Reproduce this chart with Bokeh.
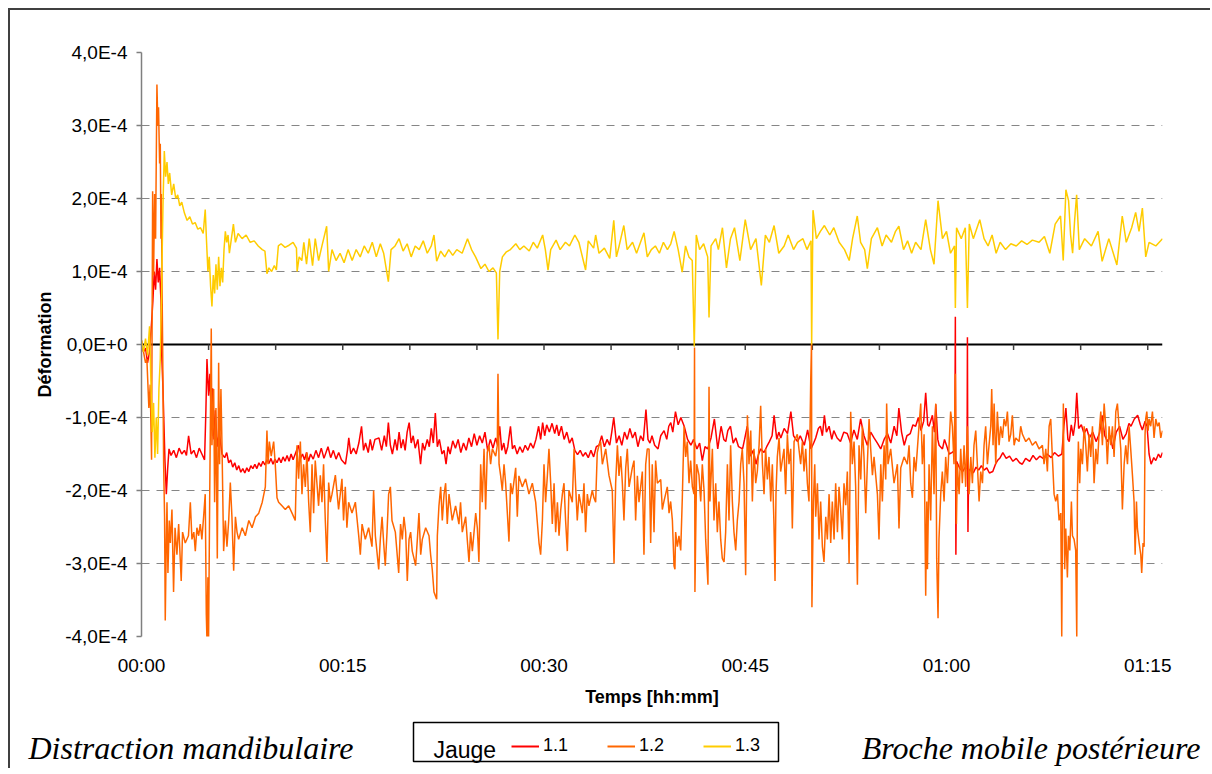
from bokeh.plotting import figure
from bokeh.models import Range1d, FixedTicker, Span, Legend, LegendItem, Label, BoxAnnotation
from bokeh.embed import file_html
from bokeh.resources import INLINE

# ---------------- data (time in minutes, deformation in units of 1E-4) ----------------
y_ticks = [-4, -3, -2, -1, 0, 1, 2, 3, 4]
y_labels = ["-4,0E-4", "-3,0E-4", "-2,0E-4", "-1,0E-4", "0,0E+0",
            "1,0E-4", "2,0E-4", "3,0E-4", "4,0E-4"]
grid_ticks = [-4, -3, -2, -1, 1, 2, 3, 4]
x_ticks = [0, 15, 30, 45, 60, 75]
x_labels = ["00:00", "00:15", "00:30", "00:45", "01:00", "01:15"]
minor_x_ticks = [5, 10, 15, 20, 25, 30, 35, 40, 45, 50, 55, 60, 65, 70, 75]

jauge_1_1 = [
    (0.0, 0.0), (0.15, -0.1), (0.3, -0.05), (0.45, -0.25), (0.6, -0.1), (0.75, 0.3),
    (0.85, 0.6), (0.95, 1.0), (1.05, 0.75), (1.15, 1.17), (1.25, 0.85), (1.35, 1.05),
    (1.45, 0.6), (1.5, -0.1), (1.6, -0.6), (1.75, -1.6), (1.85, -2.05), (1.95, -1.7),
    (2.05, -1.43), (2.2, -1.52), (2.4, -1.45), (2.6, -1.55), (2.8, -1.42), (3.0, -1.5),
    (3.2, -1.45), (3.35, -1.52), (3.51, -1.25), (3.7, -1.5), (3.9, -1.45), (4.1, -1.55),
    (4.3, -1.42), (4.5, -1.5), (4.7, -1.58), (4.8, -0.9), (4.88, -0.2), (5.0, -0.7),
    (5.1, -0.4), (5.2, -1.0), (5.3, -0.6), (5.4, -1.3), (5.5, -0.9), (5.65, -1.4),
    (5.8, -1.2), (6.0, -1.5), (6.2, -1.55), (6.35, -1.48), (6.5, -1.62), (6.65, -1.58),
    (6.8, -1.68), (6.95, -1.62), (7.1, -1.72), (7.25, -1.66), (7.4, -1.75), (7.55, -1.7),
    (7.7, -1.76), (7.85, -1.69), (8.0, -1.74), (8.15, -1.66), (8.3, -1.7), (8.45, -1.64),
    (8.6, -1.7), (8.75, -1.62), (8.9, -1.67), (9.05, -1.6), (9.2, -1.65), (9.35, -1.58),
    (9.5, -1.63), (9.65, -1.56), (9.8, -1.64), (9.95, -1.57), (10.1, -1.62), (10.25, -1.55),
    (10.4, -1.62), (10.55, -1.54), (10.7, -1.6), (10.85, -1.52), (11.0, -1.6), (11.15, -1.5),
    (11.3, -1.58), (11.5, -1.48), (11.7, -1.38), (11.85, -1.56), (12.0, -1.5), (12.15, -1.58),
    (12.3, -1.48), (12.45, -1.6), (12.6, -1.5), (12.8, -1.57), (13.0, -1.45), (13.2, -1.55),
    (13.4, -1.42), (13.6, -1.56), (13.9, -1.4), (14.1, -1.55), (14.3, -1.45), (14.5, -1.57),
    (14.7, -1.48), (14.9, -1.58), (15.2, -1.64), (15.35, -1.45), (15.45, -1.28), (15.6, -1.5),
    (15.8, -1.42), (16.0, -1.5), (16.2, -1.35), (16.4, -1.12), (16.55, -1.45), (16.7, -1.35),
    (16.9, -1.48), (17.05, -1.3), (17.2, -1.45), (17.4, -1.3), (17.7, -1.28), (17.9, -1.45),
    (18.1, -1.25), (18.25, -1.4), (18.4, -1.07), (18.55, -1.38), (18.7, -1.5), (18.9, -1.3),
    (19.05, -1.45), (19.2, -1.2), (19.35, -1.42), (19.5, -1.3), (19.65, -1.45), (19.8, -1.2),
    (19.95, -1.07), (20.1, -1.35), (20.25, -1.25), (20.4, -1.42), (20.6, -1.3), (20.8, -1.64),
    (20.95, -1.35), (21.1, -1.45), (21.3, -1.3), (21.45, -1.4), (21.6, -1.15), (21.75, -1.35),
    (21.9, -0.94), (22.05, -1.4), (22.2, -1.3), (22.4, -1.5), (22.55, -1.45), (22.7, -1.64),
    (22.85, -1.4), (23.0, -1.5), (23.2, -1.32), (23.4, -1.42), (23.6, -1.3), (23.8, -1.48),
    (24.0, -1.35), (24.2, -1.45), (24.4, -1.28), (24.6, -1.4), (24.8, -1.22), (25.0, -1.38),
    (25.2, -1.25), (25.4, -1.35), (25.6, -1.2), (25.8, -1.45), (26.0, -1.3), (26.2, -1.42),
    (26.4, -1.28), (26.55, -1.38), (26.7, -1.12), (26.85, -1.45), (27.0, -1.35), (27.15, -1.5),
    (27.3, -1.4), (27.5, -1.12), (27.65, -1.43), (27.8, -1.38), (28.0, -1.5), (28.2, -1.4),
    (28.4, -1.48), (28.6, -1.38), (28.8, -1.45), (29.0, -1.35), (29.2, -1.42), (29.4, -1.3),
    (29.6, -1.12), (29.75, -1.3), (29.9, -1.07), (30.05, -1.25), (30.2, -1.1), (30.4, -1.2),
    (30.6, -1.08), (30.8, -1.22), (30.95, -1.1), (31.1, -1.25), (31.3, -1.12), (31.5, -1.3),
    (31.7, -1.2), (31.9, -1.35), (32.1, -1.28), (32.3, -1.45), (32.5, -1.51), (32.7, -1.45),
    (32.9, -1.53), (33.1, -1.48), (33.3, -1.55), (33.5, -1.45), (33.7, -1.54), (33.9, -1.4),
    (34.1, -1.38), (34.3, -1.25), (34.5, -1.4), (34.7, -1.3), (34.9, -1.38), (35.05, -1.2),
    (35.2, -1.0), (35.4, -1.35), (35.6, -1.25), (35.8, -1.38), (36.0, -1.2), (36.2, -1.3),
    (36.4, -1.15), (36.6, -1.28), (36.8, -1.2), (37.0, -1.4), (37.2, -1.25), (37.4, -1.32),
    (37.6, -0.89), (37.75, -1.3), (37.9, -1.35), (38.05, -1.25), (38.25, -1.38), (38.5, -1.43),
    (38.7, -1.25), (38.95, -1.18), (39.15, -1.3), (39.3, -1.12), (39.45, -1.07), (39.6, -1.2),
    (39.8, -0.92), (40.0, -1.1), (40.2, -1.0), (40.45, -1.12), (40.7, -1.3), (40.95, -1.38),
    (41.15, -1.3), (41.4, -1.43), (41.6, -1.35), (41.8, -1.59), (42.0, -1.4), (42.2, -1.43),
    (42.45, -1.28), (42.7, -1.02), (42.95, -1.43), (43.2, -1.12), (43.4, -1.3), (43.55, -1.33),
    (43.7, -1.18), (43.9, -1.12), (44.1, -1.35), (44.3, -1.28), (44.5, -1.4), (44.8, -1.43),
    (44.95, -1.3), (45.15, -1.12), (45.4, -1.53), (45.6, -1.45), (45.8, -1.64), (46.0, -1.5),
    (46.15, -1.43), (46.4, -1.48), (46.6, -1.4), (46.8, -1.33), (47.0, -1.25), (47.15, -0.97),
    (47.35, -1.3), (47.5, -1.2), (47.65, -1.28), (47.9, -1.15), (48.15, -1.22), (48.4, -0.92),
    (48.6, -1.25), (48.9, -1.33), (49.1, -1.25), (49.4, -1.38), (49.65, -1.17), (49.9, -1.43),
    (50.1, -1.35), (50.25, -1.28), (50.45, -1.15), (50.6, -1.12), (50.75, -1.25), (50.9, -0.97),
    (51.05, -1.2), (51.25, -1.12), (51.45, -1.3), (51.6, -1.18), (51.85, -1.28), (52.1, -1.33),
    (52.35, -1.2), (52.6, -1.22), (52.85, -1.35), (53.1, -1.17), (53.35, -1.3), (53.6, -1.02),
    (53.85, -1.25), (54.1, -1.38), (54.35, -1.2), (54.6, -1.28), (54.85, -1.35), (55.1, -1.43),
    (55.35, -1.3), (55.6, -1.22), (55.85, -1.35), (56.1, -1.12), (56.3, -1.25), (56.45, -0.87),
    (56.65, -1.2), (56.85, -1.38), (57.05, -1.25), (57.3, -1.22), (57.5, -1.1), (57.7, -1.12),
    (57.9, -1.0), (58.1, -1.18), (58.3, -1.05), (58.45, -0.66), (58.6, -1.1), (58.7, -1.12),
    (58.95, -0.97), (59.1, -1.2), (59.2, -0.82), (59.35, -1.3), (59.45, -1.38), (59.7, -1.43),
    (59.85, -1.3), (60.0, -1.38), (60.2, -1.5), (60.4, -1.48), (60.62, -1.45), (60.66, 0.38),
    (60.7, -2.88), (60.75, -1.6), (60.85, -1.64), (61.0, -1.7), (61.2, -1.74), (61.4, -1.68),
    (61.53, -1.7), (61.56, 0.1), (61.6, -2.57), (61.65, -1.74), (61.8, -1.7), (62.0, -1.76),
    (62.2, -1.68), (62.4, -1.72), (62.6, -1.66), (62.8, -1.72), (63.0, -1.69), (63.2, -1.76),
    (63.45, -1.74), (63.65, -1.64), (63.8, -1.59), (64.0, -1.55), (64.2, -1.48), (64.45, -1.56),
    (64.7, -1.53), (64.95, -1.6), (65.2, -1.56), (65.45, -1.62), (65.65, -1.64), (65.9, -1.56),
    (66.2, -1.6), (66.45, -1.52), (66.7, -1.58), (66.95, -1.53), (67.2, -1.56), (67.5, -1.5),
    (67.8, -1.55), (68.05, -1.48), (68.35, -1.53), (68.6, -1.5), (68.75, -1.12), (68.9, -0.87),
    (69.05, -1.3), (69.15, -1.33), (69.3, -1.1), (69.45, -1.25), (69.6, -1.05), (69.71, -0.66),
    (69.85, -1.15), (70.05, -1.1), (70.25, -1.22), (70.45, -1.15), (70.65, -1.28), (70.9, -1.2),
    (71.15, -1.33), (71.4, -1.22), (71.6, -0.97), (71.8, -1.25), (72.0, -1.33), (72.2, -1.25),
    (72.4, -1.43), (72.65, -1.2), (72.9, -1.12), (73.15, -1.3), (73.4, -1.22), (73.6, -1.08),
    (73.75, -1.12), (74.0, -1.02), (74.25, -0.97), (74.45, -1.1), (74.6, -1.17), (74.8, -1.05),
    (74.95, -1.12), (75.1, -1.5), (75.25, -1.64), (75.45, -1.55), (75.6, -1.59), (75.8, -1.5),
    (75.95, -1.55), (76.1, -1.48),
]

jauge_1_2 = [
    (0.0, 0.06), (0.15, -0.1), (0.3, -0.25), (0.4, -0.2), (0.55, -0.87), (0.65, -0.55),
    (0.75, -1.58), (0.83, 2.1), (0.9, 0.95), (0.98, 2.06), (1.05, 1.45), (1.15, 3.56),
    (1.22, 3.0), (1.27, 3.25), (1.35, 2.48), (1.4, 2.75), (1.45, 1.45), (1.48, 2.06),
    (1.53, 0.83), (1.58, -0.1), (1.65, -1.64), (1.72, -2.36), (1.77, -3.78), (1.85, -2.67),
    (1.9, -2.16), (1.97, -3.13), (2.07, -2.41), (2.15, -2.72), (2.27, -2.26), (2.39, -3.39),
    (2.5, -2.51), (2.64, -2.88), (2.77, -2.46), (2.96, -3.24), (3.06, -2.57), (3.26, -2.72),
    (3.5, -2.62), (3.64, -2.16), (3.76, -2.67), (3.9, -2.57), (4.01, -2.83), (4.13, -2.51),
    (4.26, -2.62), (4.38, -2.46), (4.5, -2.67), (4.63, -2.36), (4.75, -2.05), (4.83, -3.7),
    (4.88, -4.05), (4.95, -3.19), (5.0, -4.05), (5.08, -2.16), (5.2, 0.22), (5.25, -1.38),
    (5.38, -0.61), (5.45, -2.16), (5.55, -0.87), (5.65, -2.93), (5.75, -0.25), (5.82, -1.64),
    (5.92, -0.61), (6.0, -1.38), (6.12, -2.83), (6.25, -2.41), (6.37, -2.77), (6.5, -2.41),
    (6.62, -1.89), (6.74, -2.36), (6.87, -3.1), (7.0, -2.36), (7.12, -2.57), (7.24, -2.67),
    (7.5, -2.51), (7.74, -2.62), (8.0, -2.41), (8.24, -2.51), (8.5, -2.36), (8.74, -2.31),
    (9.0, -2.16), (9.23, -1.95), (9.35, -1.18), (9.43, -1.64), (9.53, -1.33), (9.67, -1.53),
    (9.85, -1.33), (9.97, -1.64), (10.1, -2.1), (10.22, -2.16), (10.47, -2.21), (10.72, -2.26),
    (10.97, -2.21), (11.22, -2.31), (11.46, -2.41), (11.59, -1.38), (11.71, -1.84), (11.84, -1.33),
    (11.96, -2.05), (12.08, -1.64), (12.21, -1.95), (12.33, -1.48), (12.46, -2.16), (12.58, -2.57),
    (12.71, -1.64), (12.83, -2.31), (12.95, -1.59), (13.2, -2.21), (13.33, -1.79), (13.45, -2.16),
    (13.57, -1.64), (13.7, -2.41), (13.82, -2.98), (13.95, -1.89), (14.07, -2.16), (14.2, -2.05),
    (14.45, -1.79), (14.69, -2.26), (14.94, -1.84), (15.06, -2.41), (15.19, -1.95), (15.31, -2.51),
    (15.44, -2.16), (15.69, -2.31), (15.94, -2.16), (16.19, -2.62), (16.31, -2.88), (16.44, -2.46),
    (16.68, -2.67), (16.93, -2.51), (17.18, -2.77), (17.3, -2.0), (17.43, -2.62), (17.68, -3.08),
    (17.8, -2.67), (17.93, -2.36), (18.05, -2.72), (18.17, -3.03), (18.3, -2.57), (18.42, -2.05),
    (18.55, -1.95), (18.67, -2.41), (18.92, -2.57), (19.17, -3.13), (19.31, -2.46), (19.44, -2.67),
    (19.56, -2.36), (19.69, -2.57), (19.81, -3.24), (19.94, -2.67), (20.06, -2.57), (20.18, -2.83),
    (20.31, -2.93), (20.43, -3.03), (20.56, -2.67), (20.68, -2.31), (20.81, -2.88), (20.93, -2.67),
    (21.18, -2.51), (21.43, -2.62), (21.55, -2.88), (21.67, -3.08), (21.8, -3.39), (21.9, -3.44),
    (22.0, -3.49), (22.05, -2.62), (22.17, -2.21), (22.3, -1.95), (22.42, -2.41), (22.55, -2.05),
    (22.67, -1.9), (22.79, -2.46), (22.92, -2.05), (23.16, -2.41), (23.41, -2.21), (23.66, -2.46),
    (23.78, -2.16), (23.91, -2.57), (24.16, -2.36), (24.28, -2.67), (24.41, -2.98), (24.53, -2.57),
    (24.66, -2.83), (24.91, -2.31), (25.03, -2.51), (25.15, -2.98), (25.28, -1.64), (25.4, -2.16),
    (25.53, -1.43), (25.65, -2.26), (25.77, -1.48), (25.9, -1.38), (26.02, -1.64), (26.15, -1.43),
    (26.4, -1.53), (26.52, -1.38), (26.57, -0.4), (26.65, -1.64), (26.77, -1.8), (26.89, -2.0),
    (27.02, -1.64), (27.14, -1.9), (27.39, -2.7), (27.51, -1.9), (27.64, -2.05), (27.89, -1.69),
    (28.01, -2.36), (28.13, -1.8), (28.38, -1.95), (28.63, -1.84), (28.88, -2.05), (29.13, -1.9),
    (29.38, -2.16), (29.63, -2.72), (29.75, -2.88), (29.88, -2.41), (30.0, -1.64), (30.12, -2.16),
    (30.25, -1.8), (30.37, -1.43), (30.5, -1.9), (30.62, -2.46), (30.75, -1.9), (30.87, -2.57),
    (31.0, -2.16), (31.12, -2.62), (31.25, -2.26), (31.37, -2.05), (31.49, -1.9), (31.61, -2.41),
    (31.74, -2.83), (31.86, -2.0), (32.11, -2.16), (32.24, -1.43), (32.36, -1.95), (32.48, -2.41),
    (32.61, -2.05), (32.86, -2.31), (32.98, -1.9), (33.1, -2.57), (33.23, -2.05), (33.35, -2.21),
    (33.6, -2.0), (33.72, -2.1), (33.85, -2.16), (33.97, -1.48), (34.1, -1.38), (34.22, -1.33),
    (34.35, -1.64), (34.6, -1.43), (34.84, -1.79), (35.09, -2.0), (35.22, -3.0), (35.34, -1.9),
    (35.47, -1.38), (35.59, -1.8), (35.72, -1.53), (35.84, -1.9), (35.96, -2.41), (36.09, -1.69),
    (36.21, -1.43), (36.34, -1.95), (36.58, -1.69), (36.71, -1.59), (36.83, -2.41), (36.96, -1.8),
    (37.08, -2.16), (37.33, -1.74), (37.45, -2.88), (37.58, -1.64), (37.7, -1.43), (37.83, -1.43),
    (37.95, -2.72), (38.07, -1.64), (38.2, -2.57), (38.32, -1.59), (38.45, -1.9), (38.7, -1.85),
    (38.82, -2.26), (38.94, -2.15), (39.19, -1.95), (39.32, -2.31), (39.44, -2.15), (39.57, -2.41),
    (39.69, -3.03), (39.76, -3.08), (39.81, -2.57), (39.94, -2.77), (40.06, -2.62), (40.19, -2.82),
    (40.31, -2.1), (40.44, -1.12), (40.56, -1.54), (40.68, -1.33), (40.81, -1.9), (40.93, -1.59),
    (41.06, -1.95), (41.18, -2.05), (41.22, -0.04), (41.25, -3.39), (41.38, -1.64), (41.55, -1.79),
    (41.68, -2.15), (41.8, -1.64), (41.93, -2.0), (42.05, -2.67), (42.22, -3.29), (42.3, -0.58),
    (42.37, -2.15), (42.55, -1.43), (42.67, -2.41), (42.8, -1.9), (42.92, -2.57), (43.04, -2.15),
    (43.17, -2.67), (43.29, -2.93), (43.42, -2.98), (43.54, -2.57), (43.67, -1.64), (43.79, -2.41),
    (43.91, -1.38), (44.04, -2.15), (44.16, -2.57), (44.29, -2.82), (44.41, -2.41), (44.54, -2.15),
    (44.66, -1.64), (44.78, -1.43), (44.91, -1.9), (45.03, -3.16), (45.16, -0.97), (45.28, -1.64),
    (45.41, -1.18), (45.53, -2.15), (45.65, -1.43), (45.78, -1.9), (45.9, -1.74), (46.03, -1.38),
    (46.15, -0.84), (46.28, -1.64), (46.4, -2.05), (46.52, -1.43), (46.65, -1.85), (46.77, -1.54),
    (46.9, -2.15), (47.02, -1.64), (47.14, -2.46), (47.22, -3.24), (47.29, -2.05), (47.39, -1.54),
    (47.52, -1.28), (47.64, -1.74), (47.89, -1.43), (48.01, -2.05), (48.14, -1.23), (48.26, -1.64),
    (48.39, -1.43), (48.51, -2.52), (48.64, -1.33), (48.88, -1.23), (49.13, -1.64), (49.26, -1.33),
    (49.38, -1.74), (49.51, -1.43), (49.63, -1.9), (49.75, -2.15), (49.88, -0.5), (49.94, 0.02),
    (49.97, -3.6), (50.08, -2.15), (50.18, -1.64), (50.25, -2.36), (50.38, -1.9), (50.5, -2.67),
    (50.62, -2.15), (50.75, -2.77), (50.87, -2.98), (51.0, -2.36), (51.12, -2.67), (51.25, -2.05),
    (51.37, -2.72), (51.49, -2.15), (51.62, -2.67), (51.74, -1.9), (51.87, -2.57), (51.99, -1.95),
    (52.11, -2.26), (52.24, -2.67), (52.36, -1.9), (52.49, -2.2), (52.61, -1.74), (52.74, -3.0),
    (52.86, -0.92), (52.98, -1.64), (53.11, -1.33), (53.23, -1.95), (53.36, -3.29), (53.48, -1.38),
    (53.61, -1.85), (53.73, -1.12), (53.85, -1.54), (53.98, -2.31), (54.1, -1.64), (54.23, -1.02),
    (54.35, -1.43), (54.48, -1.79), (54.6, -1.54), (54.85, -2.05), (54.97, -2.67), (55.1, -1.64),
    (55.22, -2.15), (55.35, -1.38), (55.47, -1.85), (55.54, -0.81), (55.64, -1.64), (55.84, -1.43),
    (56.09, -1.9), (56.34, -1.64), (56.46, -2.52), (56.59, -1.69), (56.84, -1.54), (57.08, -1.64),
    (57.21, -1.38), (57.33, -1.9), (57.46, -2.1), (57.58, -1.54), (57.71, -1.74), (57.83, -1.43),
    (57.95, -1.12), (58.08, -0.81), (58.2, -1.64), (58.33, -1.23), (58.45, -3.44), (58.53, -2.15),
    (58.58, -3.08), (58.7, -1.64), (58.82, -2.41), (58.95, -1.12), (59.07, -2.05), (59.2, -0.81),
    (59.27, -2.93), (59.37, -3.75), (59.44, -2.67), (59.57, -2.05), (59.69, -1.74), (59.82, -2.15),
    (59.94, -1.54), (60.07, -1.9), (60.19, -1.38), (60.31, -0.92), (60.44, -1.12), (60.56, -1.64),
    (60.66, -0.4), (60.74, -2.46), (60.81, -1.64), (60.94, -2.05), (61.06, -1.43), (61.18, -1.9),
    (61.31, -1.38), (61.43, -1.95), (61.56, -1.12), (61.68, -2.05), (61.81, -1.54), (61.93, -1.9),
    (62.05, -1.38), (62.18, -1.18), (62.3, -1.64), (62.43, -2.15), (62.55, -1.74), (62.68, -1.9),
    (62.8, -1.38), (62.92, -1.12), (63.05, -1.64), (63.17, -1.38), (63.3, -1.12), (63.37, -0.61),
    (63.47, -1.38), (63.55, -0.81), (63.67, -1.64), (63.79, -0.92), (63.92, -1.38), (64.04, -1.12),
    (64.17, -1.28), (64.29, -1.02), (64.42, -1.12), (64.54, -0.92), (64.66, -1.33), (64.79, -1.23),
    (64.91, -0.97), (65.04, -1.38), (65.16, -1.28), (65.41, -1.33), (65.53, -1.12), (65.66, -1.23),
    (65.91, -1.33), (66.15, -1.28), (66.4, -1.38), (66.65, -1.33), (66.9, -1.43), (67.15, -1.38),
    (67.27, -1.64), (67.4, -1.43), (67.52, -1.74), (67.65, -1.12), (67.77, -1.02), (67.89, -1.54),
    (68.02, -2.05), (68.14, -2.15), (68.27, -2.05), (68.39, -2.41), (68.52, -2.31), (68.59, -4.01),
    (68.64, -2.67), (68.71, -0.81), (68.81, -3.08), (68.89, -2.52), (69.01, -3.19), (69.09, -2.62),
    (69.19, -2.82), (69.31, -2.15), (69.39, -2.62), (69.51, -2.67), (69.63, -2.82), (69.71, -4.01),
    (69.76, -2.0), (69.83, -1.33), (69.93, -1.9), (70.01, -1.43), (70.13, -1.64), (70.26, -1.12),
    (70.38, -1.38), (70.5, -1.74), (70.63, -1.23), (70.75, -1.54), (70.88, -1.12), (71.0, -1.9),
    (71.13, -1.43), (71.25, -1.64), (71.37, -1.23), (71.5, -0.92), (71.62, -1.38), (71.75, -0.81),
    (71.87, -1.12), (71.99, -1.64), (72.12, -1.12), (72.24, -1.38), (72.37, -1.12), (72.49, -1.54),
    (72.62, -0.92), (72.74, -0.81), (72.86, -1.12), (72.99, -1.43), (73.11, -2.26), (73.24, -1.64),
    (73.36, -1.38), (73.49, -1.64), (73.61, -1.12), (73.73, -1.43), (73.86, -1.79), (73.98, -2.15),
    (74.06, -2.88), (74.16, -2.15), (74.23, -2.52), (74.36, -2.72), (74.48, -2.88), (74.55, -3.13),
    (74.65, -2.72), (74.73, -2.77), (74.8, -1.23), (74.85, -1.02), (74.93, -0.92), (75.03, -1.18),
    (75.1, -1.02), (75.22, -1.12), (75.35, -0.92), (75.47, -1.28), (75.6, -1.02), (75.72, -1.12),
    (75.85, -1.07), (75.97, -1.28), (76.1, -1.18),
]

jauge_1_3 = [
    (0.0, 0.05), (0.15, -0.1), (0.3, 0.08), (0.45, -0.15), (0.6, 0.25), (0.7, -0.5),
    (0.8, -1.2), (0.9, -0.8), (1.0, -1.55), (1.1, -1.0), (1.2, -1.5), (1.3, -0.6),
    (1.4, -0.2), (1.5, 0.8), (1.6, 1.9), (1.7, 2.65), (1.8, 2.3), (1.9, 2.5),
    (2.0, 2.2), (2.1, 2.35), (2.25, 2.05), (2.4, 2.2), (2.55, 2.0), (2.7, 2.05),
    (2.85, 1.9), (3.0, 1.95), (3.2, 1.8), (3.4, 1.7), (3.6, 1.75), (3.8, 1.65),
    (4.0, 1.67), (4.2, 1.58), (4.4, 1.6), (4.6, 1.52), (4.75, 1.85), (4.85, 1.4),
    (4.95, 1.0), (5.05, 1.2), (5.15, 0.8), (5.25, 0.52), (5.35, 0.95), (5.45, 0.7),
    (5.55, 1.1), (5.65, 0.75), (5.75, 1.2), (5.85, 0.8), (5.95, 1.05), (6.05, 0.85),
    (6.15, 1.3), (6.25, 1.55), (6.35, 1.4), (6.45, 1.5), (6.55, 1.25), (6.7, 1.45),
    (6.85, 1.65), (7.0, 1.4), (7.2, 1.52), (7.5, 1.45), (7.8, 1.5), (8.1, 1.4),
    (8.4, 1.42), (8.7, 1.35), (9.0, 1.3), (9.2, 1.28), (9.35, 0.97), (9.5, 1.05),
    (9.7, 1.0), (9.9, 1.08), (10.05, 1.02), (10.2, 1.35), (10.4, 1.38), (10.7, 1.33),
    (11.0, 1.36), (11.3, 1.4), (11.55, 1.32), (11.6, 1.0), (11.75, 1.2), (11.95, 1.15),
    (12.1, 1.4), (12.3, 1.1), (12.5, 1.45), (12.75, 1.08), (12.95, 1.45), (13.2, 1.15),
    (13.45, 1.35), (13.8, 1.62), (13.95, 1.0), (14.2, 1.3), (14.5, 1.15), (14.8, 1.25),
    (15.1, 1.12), (15.4, 1.3), (15.7, 1.15), (16.0, 1.3), (16.3, 1.2), (16.6, 1.35),
    (16.9, 1.25), (17.2, 1.4), (17.5, 1.2), (17.8, 1.38), (18.05, 1.25), (18.4, 0.86),
    (18.6, 1.3), (18.9, 1.35), (19.2, 1.45), (19.5, 1.28), (19.8, 1.38), (20.1, 1.2),
    (20.4, 1.35), (20.7, 1.3), (21.0, 1.42), (21.3, 1.25), (21.6, 1.35), (21.8, 1.5),
    (22.0, 1.14), (22.3, 1.28), (22.6, 1.2), (22.9, 1.3), (23.2, 1.22), (23.5, 1.3),
    (23.9, 1.25), (24.3, 1.45), (24.6, 1.3), (24.9, 1.2), (25.3, 1.04), (25.6, 1.1),
    (25.9, 1.0), (26.2, 1.05), (26.45, 0.98), (26.57, 0.07), (26.7, 1.0), (26.9, 1.2),
    (27.2, 1.27), (27.5, 1.3), (27.9, 1.38), (28.2, 1.3), (28.5, 1.35), (28.9, 1.28),
    (29.2, 1.4), (29.5, 1.32), (29.9, 1.5), (30.1, 1.3), (30.3, 1.02), (30.5, 1.3),
    (30.9, 1.43), (31.2, 1.3), (31.6, 1.4), (31.9, 1.35), (32.3, 1.5), (32.6, 1.4),
    (33.1, 1.02), (33.3, 1.42), (33.7, 1.32), (33.85, 1.5), (34.1, 1.25), (34.5, 1.32),
    (34.9, 1.18), (35.2, 1.7), (35.4, 1.2), (35.6, 1.35), (35.95, 1.63), (36.2, 1.3),
    (36.6, 1.4), (36.9, 1.25), (37.45, 1.53), (37.7, 1.2), (38.0, 1.3), (38.3, 1.35),
    (38.6, 1.25), (38.9, 1.4), (39.2, 1.3), (39.45, 1.38), (39.7, 1.55), (40.0, 1.3),
    (40.3, 0.99), (40.55, 1.35), (40.8, 1.2), (41.05, 1.15), (41.2, -0.03), (41.35, 1.5),
    (41.6, 1.3), (41.9, 1.38), (42.2, 1.2), (42.3, 0.37), (42.45, 1.35), (42.8, 1.45),
    (43.0, 1.3), (43.3, 1.6), (43.6, 1.05), (43.9, 1.45), (44.2, 1.6), (44.6, 1.15),
    (45.0, 1.71), (45.4, 1.3), (45.8, 1.45), (46.2, 0.81), (46.5, 1.5), (46.8, 1.4),
    (47.15, 1.63), (47.5, 1.25), (47.9, 1.35), (48.2, 1.5), (48.6, 1.3), (48.9, 1.4),
    (49.3, 1.45), (49.6, 1.3), (49.9, 1.42), (49.95, 0.0), (50.05, 1.84), (50.3, 1.45),
    (50.6, 1.55), (50.9, 1.63), (51.3, 1.5), (51.6, 1.6), (52.0, 1.4), (52.4, 1.3),
    (52.75, 1.15), (53.0, 1.45), (53.35, 1.76), (53.6, 1.4), (53.9, 1.3), (54.1, 1.04),
    (54.4, 1.45), (54.85, 1.6), (55.2, 1.35), (55.5, 1.5), (55.9, 1.4), (56.2, 1.55),
    (56.45, 1.62), (56.8, 1.3), (57.1, 1.42), (57.4, 1.25), (57.7, 1.4), (58.1, 1.3),
    (58.45, 1.71), (58.8, 1.3), (59.07, 1.1), (59.37, 1.97), (59.7, 1.45), (60.0, 1.55),
    (60.3, 1.25), (60.6, 1.35), (60.66, 0.5), (60.75, 1.6), (61.1, 1.45), (61.4, 1.6),
    (61.56, 0.5), (61.7, 1.65), (62.0, 1.45), (62.48, 1.71), (62.8, 1.45), (63.1, 1.35),
    (63.4, 1.5), (63.7, 1.25), (64.0, 1.4), (64.4, 1.3), (64.8, 1.38), (65.2, 1.35),
    (65.6, 1.42), (66.0, 1.37), (66.4, 1.43), (66.9, 1.4), (67.3, 1.48), (67.7, 1.25),
    (68.1, 1.65), (68.5, 1.76), (68.7, 1.15), (68.9, 2.12), (69.1, 1.97), (69.25, 1.5),
    (69.4, 1.25), (69.55, 1.7), (69.7, 2.05), (69.9, 1.3), (70.3, 1.45), (70.8, 1.35),
    (71.3, 1.55), (71.6, 1.14), (72.1, 1.45), (72.7, 1.09), (73.1, 1.76), (73.4, 1.4),
    (73.8, 1.6), (74.1, 1.81), (74.35, 1.55), (74.6, 1.87), (74.85, 1.2), (75.1, 1.4),
    (75.6, 1.35), (76.1, 1.45),
]

series_names = ["1.1", "1.2", "1.3"]
series_colors = ["#FF0000", "#FF6600", "#FFCC00"]
legend_title = "Jauge"
left_caption = "Distraction mandibulaire"
right_caption = "Broche mobile postérieure"

# ---------------- main chart ----------------
SANS = "Liberation Sans"
SERIF = "Liberation Serif"
W = 1202

p = figure(width=W, height=704, output_backend="svg", toolbar_location=None,
           x_range=Range1d(0, 76.1), y_range=Range1d(-4, 4),
           min_border_left=131, min_border_right=50, min_border_top=42,
           min_border_bottom=78)
p.outline_line_color = None
p.background_fill_color = "white"
p.border_fill_color = "white"
p.styles = {"margin-left": "8px", "margin-top": "8px",
            "border-left": "2px solid #404040", "border-top": "2px solid #404040"}

# y axis
p.yaxis.ticker = FixedTicker(ticks=y_ticks)
p.yaxis.major_label_overrides = {t: s for t, s in zip(y_ticks, y_labels)}
p.yaxis.axis_line_color = "#7f7f7f"
p.yaxis.axis_line_width = 1.5
p.yaxis.major_tick_line_color = "#7f7f7f"
p.yaxis.major_tick_line_width = 1.5
p.yaxis.major_tick_out = 5
p.yaxis.major_tick_in = 0
p.yaxis.minor_tick_line_color = None
p.yaxis.major_label_text_font = SANS
p.yaxis.major_label_text_font_size = "19px"
p.yaxis.major_label_text_color = "black"
p.yaxis.major_label_standoff = 9
p.yaxis.axis_label = "Déformation"
p.yaxis.axis_label_text_font = SANS
p.yaxis.axis_label_text_font_style = "bold"
p.yaxis.axis_label_text_font_size = "18px"
p.yaxis.axis_label_text_color = "black"
p.yaxis.axis_label_standoff = 7

# x axis (labels only; ticks live on the zero line)
p.xaxis.ticker = FixedTicker(ticks=x_ticks)
p.xaxis.major_label_overrides = {t: s for t, s in zip(x_ticks, x_labels)}
p.xaxis.axis_line_color = None
p.xaxis.major_tick_line_color = None
p.xaxis.minor_tick_line_color = None
p.xaxis.major_tick_out = 0
p.xaxis.major_tick_in = 0
p.xaxis.major_label_text_font = SANS
p.xaxis.major_label_text_font_size = "19px"
p.xaxis.major_label_text_color = "black"
p.xaxis.major_label_standoff = 18
p.xaxis.axis_label = "Temps [hh:mm]"
p.xaxis.axis_label_text_font = SANS
p.xaxis.axis_label_text_font_style = "bold"
p.xaxis.axis_label_text_font_size = "18px"
p.xaxis.axis_label_text_color = "black"
p.xaxis.axis_label_standoff = 8

# grid
p.xgrid.visible = False
p.ygrid.ticker = FixedTicker(ticks=grid_ticks)
p.ygrid.grid_line_color = "#868686"
p.ygrid.grid_line_dash = "8 7"
p.ygrid.grid_line_width = 1

# zero line with its 5-minute ticks
p.add_layout(Span(location=0, dimension="width", line_color="black",
                  line_width=1.8, level="underlay"))
p.segment(x0=minor_x_ticks, y0=[0] * len(minor_x_ticks),
          x1=minor_x_ticks, y1=[-0.075] * len(minor_x_ticks),
          line_color="#404040", line_width=1.5)

for data, name, col in zip([jauge_1_1, jauge_1_2, jauge_1_3], series_names, series_colors):
    xs = [d[0] for d in data]
    ys = [d[1] for d in data]
    p.line(xs, ys, line_color=col, line_width=1.5)

# ---------------- footer (separate root): legend and captions ----------------
FH = 56
foot = figure(width=W, height=FH, output_backend="svg", toolbar_location=None,
              x_range=Range1d(0, W), y_range=Range1d(FH, 0),
              x_axis_type=None, y_axis_type=None,
              min_border_left=0, min_border_right=0, min_border_top=0, min_border_bottom=0)
foot.outline_line_color = None
foot.grid.visible = False
foot.background_fill_color = "white"
foot.border_fill_color = "white"
foot.styles = {"margin-left": "8px", "border-left": "2px solid #404040"}

# legend frame (pixel units of the footer canvas)
foot.add_layout(BoxAnnotation(left=403, right=768, top=10, bottom=49,
                              fill_alpha=0, line_color="black", line_alpha=1.0,
                              line_width=1.5))
foot.add_layout(Label(x=423, y=37, text=legend_title, text_font=SANS,
                      text_font_size="23px", text_color="black",
                      text_baseline="alphabetic"))

# legend swatch renderers: kept off-canvas, only their style is shown in the legend
swatches = [foot.line(x=[-40, -30], y=[-20, -20], line_color=c, line_width=2)
            for c in series_colors]
legend = Legend(items=[LegendItem(label=n, renderers=[r]) for n, r in zip(series_names, swatches)],
                orientation="horizontal", location=(501, 12),
                border_line_color=None, background_fill_alpha=0,
                padding=0, spacing=39, margin=0,
                glyph_width=28, glyph_height=18, label_standoff=4,
                label_text_font=SANS, label_text_font_size="18px",
                label_text_color="black")
foot.add_layout(legend, "center")

foot.add_layout(Label(x=18, y=35, text=left_caption, text_font=SERIF,
                      text_font_style="italic", text_font_size="32px",
                      text_color="black", text_baseline="alphabetic"))
foot.add_layout(Label(x=1190, y=35, text=right_caption, text_font=SERIF,
                      text_font_style="italic", text_font_size="32px",
                      text_color="black", text_baseline="alphabetic", text_align="right"))

open("out.html", "w").write(file_html([p, foot], INLINE))
